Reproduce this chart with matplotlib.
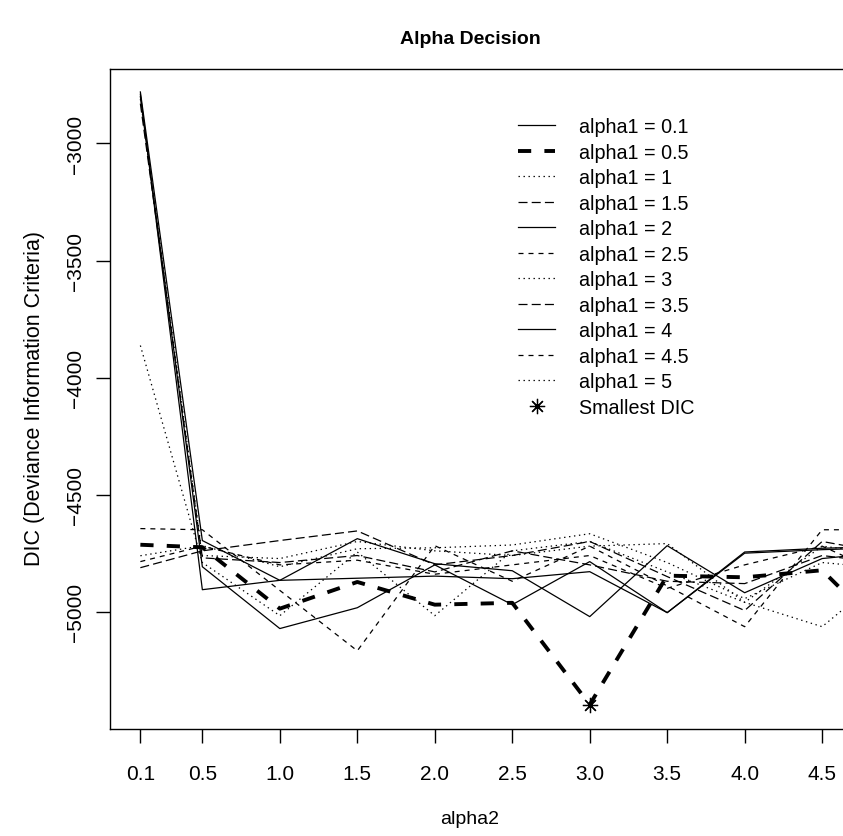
"""Alpha decision plot: DIC for each alpha1 over alpha2"""

import matplotlib
matplotlib.use("Agg")
import matplotlib.pyplot as plt

plt.rcParams['font.family'] = ['Liberation Sans', 'DejaVu Sans']
plt.rcParams['lines.scale_dashes'] = False

alpha2 = [0.1, 0.5, 1.0, 1.5, 2.0, 2.5, 3.0, 3.5, 4.0, 4.5, 5.0]
alpha2_labels = ["0.1", "0.5", "1.0", "1.5", "2.0", "2.5", "3.0", "3.5", "4.0", "4.5", "5.0"]
alpha1 = ["0.1", "0.5", "1", "1.5", "2", "2.5", "3", "3.5", "4", "4.5", "5"]

dic_01 = [-2790, -4906, -4866, -4857, -4848, -4859, -4829, -5004, -4745, -4729, -4720]
dic_05 = [-4714, -4725, -4987, -4873, -4970, -4962, -5397, -4846, -4853, -4823, -5150]
dic_1 = [-4761, -4718, -4808, -4731, -4727, -4715, -4667, -4790, -4944, -4790, -4820]
dic_15 = [-4812, -4740, -4696, -4655, -4800, -4760, -4700, -4850, -4995, -4700, -4760]
dic_2 = [-2780, -4696, -4866, -4688, -4795, -4825, -5021, -4718, -4919, -4773, -4740]
dic_25 = [-4645, -4650, -4909, -5167, -4718, -4870, -4720, -4890, -5064, -4650, -4650]
dic_3 = [-2810, -4760, -4773, -4700, -4740, -4760, -4720, -4709, -4960, -4720, -4760]
dic_35 = [-2830, -4770, -4790, -4760, -4830, -4740, -4800, -4870, -4880, -4760, -4800]
dic_4 = [-2800, -4808, -5072, -4983, -4800, -4970, -4786, -5004, -4750, -4735, -4725]
dic_45 = [-4786, -4720, -4800, -4780, -4840, -4800, -4760, -4900, -4800, -4720, -4870]
dic_5 = [-3863, -4790, -5017, -4745, -5017, -4740, -4700, -4830, -4960, -5064, -4790]

series = [dic_01, dic_05, dic_1, dic_15, dic_2, dic_25, dic_3, dic_35, dic_4, dic_45, dic_5]

# R-like line types (in points)
solid = '-'
dashed = (0, (3.6, 3.6))
dotted = (0, (1.0, 2.6))
longdash = (0, (6.5, 3.0))
styles = [solid, (0, (9.5, 9.5)), dotted, longdash,
	solid, dashed, dotted, longdash,
	solid, dashed, dotted]
widths = [0.9, 2.8, 0.9, 0.9, 0.9, 0.9, 0.9, 0.9, 0.9, 0.9, 0.9]

W, H = 843, 837
fig = plt.figure(figsize=(W / 100, H / 100), dpi=100)

# plot box in pixels (right side runs past the picture)
left, right, top, bottom = 110, 930, 70, 730
ax = fig.add_axes([left / W, 1 - bottom / H, (right - left) / W, (bottom - top) / H])

for vals, ls, lw, name in zip(series, styles, widths, alpha1):
	ax.plot(alpha2, vals, color='black', linestyle=ls, linewidth=lw,
		label="alpha1 = " + name)

# smallest DIC
best_val = min(min(s) for s in series)
for s in series:
	if best_val in s:
		best_x = alpha2[s.index(best_val)]
ax.plot([best_x], [best_val], linestyle='none', marker=(8, 2, 0), markersize=11,
	color='black', markeredgewidth=0.9, label="Smallest DIC")

ax.set_xlim(-0.096, 5.196)
ax.set_ylim(-5501, -2682)
ax.set_xticks(alpha2)
ax.set_xticklabels(alpha2_labels)
ax.set_yticks([-3000, -3500, -4000, -4500, -5000])
ax.set_yticklabels(["\u22123000", "\u22123500", "\u22124000", "\u22124500", "\u22125000"],
	rotation=90, va='center')

# the last tick sits past the right edge of the picture
ax.get_xticklabels()[-1].set_visible(False)

for sp in ax.spines.values():
	sp.set_linewidth(1.0)
ax.tick_params(direction='out', length=10, width=1.0, labelsize=15)
ax.tick_params(axis='x', pad=15)
ax.tick_params(axis='y', pad=8)

fig.text(470 / W, 1 - 40 / H, "Alpha Decision", ha='center', va='center',
	fontsize=14, fontweight='bold')
fig.text(470 / W, 1 - 820 / H, "alpha2", ha='center', va='center', fontsize=14)
fig.text(35 / W, 1 - 398 / H, "DIC (Deviance Information Criteria)", ha='center',
	va='center', rotation=90, fontsize=15.5)

ax.legend(loc='upper left', bbox_to_anchor=(518 / W, 1 - 118 / H),
	bbox_transform=fig.transFigure, frameon=False, fontsize=14.2,
	handlelength=1.9, handletextpad=1.2, labelspacing=0.33, borderpad=0,
	borderaxespad=0)

fig.savefig("out.png", dpi=100)
